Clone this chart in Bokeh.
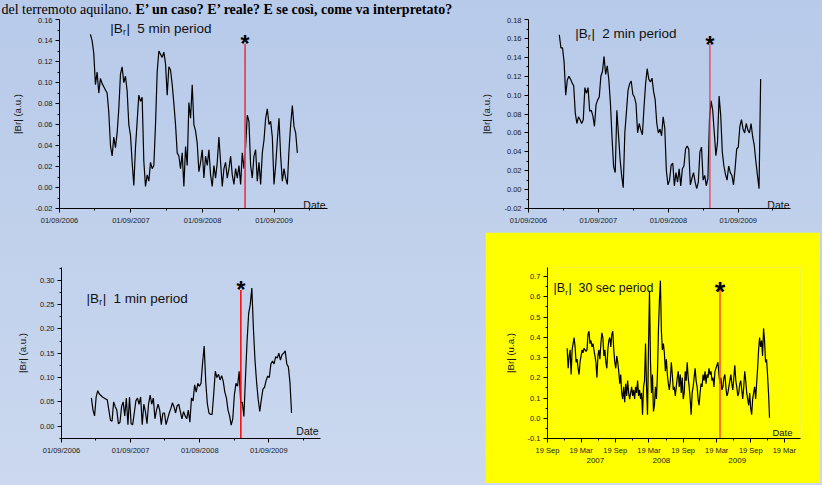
import pandas as pd
from bokeh.plotting import figure
from bokeh.layouts import column, row
from bokeh.models import (Range1d, FixedTicker, DatetimeTickFormatter,
                          NumeralTickFormatter, Label, DatetimeAxis, Spacer)
from bokeh.embed import file_html
from bokeh.resources import INLINE

# ------------------------------------------------------------------ data
heading_regular = "del terremoto aquilano. "
heading_bold = "E’ un caso? E’ reale? E se così, come va interpretato?"

quake_date = "2009-04-06"

br_5min = [0.146, 0.140, 0.128, 0.098, 0.110, 0.090, 0.104, 0.099, 0.096, 0.093,
           0.090, 0.072, 0.040, 0.030, 0.048, 0.038, 0.052, 0.075, 0.108, 0.115,
           0.100, 0.106, 0.092, 0.060, 0.050, 0.024, 0.002, 0.038, 0.063, 0.088,
           0.082, 0.086, 0.025, 0.001, 0.012, 0.006, 0.024, 0.018, 0.021, 0.060,
           0.110, 0.130, 0.127, 0.124, 0.129, 0.118, 0.088, 0.115, 0.112, 0.098,
           0.080, 0.060, 0.033, 0.030, 0.018, 0.033, 0.001, 0.039, 0.021, 0.081,
           0.066, 0.098, 0.060, 0.054, 0.042, 0.015, 0.024, 0.036, 0.009, 0.030,
           0.021, 0.036, 0.012, 0.001, 0.021, 0.009, 0.024, 0.048, 0.024, 0.001,
           0.018, 0.024, 0.009, 0.018, 0.030, 0.012, 0.003, 0.018, 0.009, 0.021,
           0.003, 0.033, 0.018, 0.039, 0.069, 0.063, 0.021, 0.009, 0.030, 0.036,
           0.006, 0.024, 0.003, 0.033, 0.045, 0.066, 0.075, 0.060, 0.063, 0.048,
           0.003, 0.021, 0.045, 0.066, 0.030, 0.006, 0.018, 0.009, 0.003, 0.036,
           0.060, 0.078, 0.058, 0.052, 0.033]

br_2min = [0.164, 0.150, 0.150, 0.135, 0.100, 0.116, 0.120, 0.117, 0.113, 0.110,
           0.081, 0.070, 0.077, 0.074, 0.070, 0.074, 0.108, 0.102, 0.108, 0.083,
           0.084, 0.078, 0.067, 0.090, 0.095, 0.098, 0.120, 0.125, 0.141, 0.122,
           0.131, 0.116, 0.091, 0.055, 0.024, 0.018, 0.084, 0.059, 0.033, 0.015,
           0.002, 0.060, 0.082, 0.105, 0.112, 0.115, 0.101, 0.098, 0.091, 0.060,
           0.070, 0.063, 0.058, 0.087, 0.112, 0.128, 0.117, 0.114, 0.118, 0.104,
           0.095, 0.070, 0.060, 0.064, 0.057, 0.077, 0.065, 0.020, 0.005, 0.010,
           0.026, 0.028, 0.004, 0.018, 0.008, 0.022, 0.004, 0.022, 0.025, 0.043,
           0.046, 0.043, 0.005, 0.012, 0.018, 0.008, 0.001, 0.008, 0.040, 0.045,
           0.010, 0.015, 0.004, 0.012, 0.075, 0.094, 0.084, 0.060, 0.036, 0.050,
           0.099, 0.079, 0.040, 0.025, 0.016, 0.010, 0.025, 0.018, 0.015, 0.005,
           0.022, 0.043, 0.045, 0.067, 0.074, 0.064, 0.060, 0.070, 0.063, 0.060,
           0.070, 0.056, 0.047, 0.030, 0.015, 0.001, 0.117]

br_1min = [0.058, 0.033, 0.021, 0.060, 0.073, 0.066, 0.063, 0.060, 0.058, 0.056,
           0.054, 0.033, 0.012, 0.010, 0.050, 0.040, 0.033, 0.005, 0.008, 0.040,
           0.050, 0.021, 0.058, 0.003, 0.060, 0.005, 0.003, 0.027, 0.052, 0.058,
           0.045, 0.060, 0.003, 0.045, 0.030, 0.005, 0.046, 0.064, 0.045, 0.058,
           0.015, 0.033, 0.045, 0.033, 0.003, 0.027, 0.027, 0.003, 0.015, 0.027,
           0.036, 0.048, 0.040, 0.027, 0.042, 0.045, 0.030, 0.015, 0.030, 0.021,
           0.015, 0.033, 0.008, 0.058, 0.052, 0.085, 0.070, 0.088, 0.082, 0.088,
           0.130, 0.165, 0.090, 0.046, 0.027, 0.024, 0.024, 0.066, 0.113, 0.100,
           0.107, 0.095, 0.104, 0.092, 0.070, 0.058, 0.033, 0.021, 0.002, 0.015,
           0.064, 0.088, 0.082, 0.113, 0.048, 0.049, 0.020, 0.100, 0.175, 0.232,
           0.250, 0.284, 0.200, 0.135, 0.090, 0.055, 0.030, 0.055, 0.076, 0.080,
           0.094, 0.103, 0.100, 0.128, 0.134, 0.128, 0.143, 0.140, 0.150, 0.136,
           0.147, 0.150, 0.155, 0.128, 0.122, 0.090, 0.027]

br_30sec = [0.346, 0.247, 0.308, 0.338, 0.216, 0.338, 0.369, 0.399, 0.353, 0.277,
            0.292, 0.247, 0.216, 0.277, 0.308, 0.338, 0.323, 0.346, 0.338, 0.330,
            0.338, 0.414, 0.430, 0.369, 0.384, 0.353, 0.369, 0.338, 0.308, 0.277,
            0.201, 0.308, 0.338, 0.292, 0.369, 0.422, 0.399, 0.308, 0.338, 0.277,
            0.247, 0.338, 0.384, 0.399, 0.353, 0.414, 0.430, 0.338, 0.277, 0.247,
            0.308, 0.277, 0.232, 0.171, 0.216, 0.125, 0.095, 0.155, 0.079, 0.171,
            0.110, 0.186, 0.125, 0.095, 0.125, 0.155, 0.110, 0.140, 0.095, 0.155,
            0.125, 0.186, 0.110, 0.140, 0.095, 0.125, 0.018, 0.155, 0.186, 0.369,
            0.155, 0.018, 0.353, 0.630, 0.277, 0.125, 0.216, 0.034, 0.064, 0.155,
            0.095, 0.216, 0.430, 0.582, 0.680, 0.430, 0.338, 0.369, 0.323, 0.232,
            0.292, 0.216, 0.171, 0.140, 0.186, 0.277, 0.216, 0.140, 0.155, 0.110,
            0.155, 0.201, 0.232, 0.155, 0.216, 0.125, 0.201, 0.095, 0.125, 0.232,
            0.186, 0.277, 0.201, 0.155, 0.095, 0.018, 0.125, 0.155, 0.201, 0.247,
            0.186, 0.155, 0.095, 0.064, 0.125, 0.171, 0.155, 0.216, 0.186, 0.232,
            0.171, 0.216, 0.201, 0.247, 0.216, 0.232, 0.186, 0.201, 0.155, 0.232,
            0.247, 0.262, 0.277, 0.216, 0.171, 0.201, 0.140, 0.155, 0.201, 0.216,
            0.155, 0.110, 0.125, 0.155, 0.186, 0.216, 0.171, 0.140, 0.201, 0.262,
            0.186, 0.155, 0.110, 0.125, 0.171, 0.186, 0.140, 0.095, 0.155, 0.232,
            0.186, 0.125, 0.095, 0.064, 0.125, 0.049, 0.018, 0.095, 0.125, 0.155,
            0.095, 0.171, 0.247, 0.338, 0.399, 0.353, 0.384, 0.308, 0.445, 0.384,
            0.277, 0.292, 0.216, 0.125, 0.003]

# first / last sample date of each record
span_5min = ("2007-02-06", "2009-12-29")
span_2min = ("2007-02-09", "2009-12-27")
span_1min = ("2007-02-06", "2009-12-30")
span_30sec = ("2007-01-03", "2009-12-29")

period_titles = ["5 min period", "2 min period", "1 min period", "30 sec period"]
y_labels = ["|Br| (a.u.)", "|Br| (a.u.)", "|Br| (a.u.)", "|Br| (u.a.)"]
red_tops = [0.137, 0.154, 0.280, 0.647]

yticks_5min = [-0.02, 0.00, 0.02, 0.04, 0.06, 0.08, 0.10, 0.12, 0.14, 0.16]
yticks_2min = [-0.02, 0.00, 0.02, 0.04, 0.06, 0.08, 0.10, 0.12, 0.14, 0.16, 0.18]
yticks_1min = [0.00, 0.05, 0.10, 0.15, 0.20, 0.25, 0.30]
yticks_30sec = [-0.1, 0.0, 0.1, 0.2, 0.3, 0.4, 0.5, 0.6, 0.7]

xticks_dmy = ["2006-09-01", "2007-09-01", "2008-09-01", "2009-09-01"]
xminor_dmy = ["2007-03-01", "2008-03-01", "2009-03-01", "2010-03-01"]
xticks_30sec = ["2006-09-19", "2007-03-19", "2007-09-19", "2008-03-19",
                "2008-09-19", "2009-03-19", "2009-09-19", "2010-03-19"]
xminor_30sec = ["2006-12-19", "2007-06-19", "2007-12-19", "2008-06-19",
                "2008-12-19", "2009-06-19", "2009-12-19"]
year_label_pos = ["2007-06-04", "2008-05-25", "2009-07-08"]

# ------------------------------------------------------------------ helpers
SANS = "Liberation Sans"
SERIF = "Liberation Serif"


def ms(d):
    return pd.Timestamp(d).value / 1e6


def minors(ticks):
    step = ticks[1] - ticks[0]
    return [round(t + step / 2, 4) for t in ticks] + [round(ticks[0] - step / 2, 4)]


def make_fig(width, height, lb, rb, tb, bb, xr, yr, fill=None):
    p = figure(width=width, height=height, x_axis_type="datetime",
               x_range=Range1d(ms(xr[0]), ms(xr[1])), y_range=Range1d(*yr),
               output_backend="svg", toolbar_location=None,
               min_border_left=lb, min_border_right=rb,
               min_border_top=tb, min_border_bottom=bb)
    p.border_fill_color = fill
    p.background_fill_color = fill
    p.outline_line_color = None
    p.grid.visible = False
    return p


def style_axes(p, ylabel, yticks, yfmt, xticks, xminor, xfmt):
    for ax in p.axis:
        ax.axis_line_color = "black"
        ax.axis_line_width = 1
        ax.major_tick_line_color = "black"
        ax.minor_tick_line_color = "black"
        ax.major_tick_in = 0
        ax.major_tick_out = 4
        ax.minor_tick_in = 0
        ax.minor_tick_out = 2
        ax.major_label_text_font = SANS
        ax.major_label_text_font_size = "7.5px"
        ax.major_label_text_color = "#1a1a1a"
        ax.major_label_standoff = 3
    p.yaxis.ticker = FixedTicker(ticks=yticks, minor_ticks=minors(yticks))
    p.yaxis.formatter = NumeralTickFormatter(format=yfmt)
    p.yaxis.axis_label = ylabel
    p.yaxis.axis_label_text_font = SANS
    p.yaxis.axis_label_text_font_size = "9.7px"
    p.yaxis.axis_label_text_font_style = "normal"
    p.yaxis.axis_label_text_color = "#1a1a1a"
    p.yaxis.axis_label_standoff = 9
    p.xaxis.ticker = FixedTicker(ticks=[ms(t) for t in xticks],
                                 minor_ticks=[ms(t) for t in xminor])
    p.xaxis.formatter = DatetimeTickFormatter(days=xfmt, months=xfmt, years=xfmt,
                                              hours=xfmt, hourmin=xfmt)


def add_title(p, x, y, rest, s):
    kw = dict(text_font=SANS, text_color="#111111", text_baseline="alphabetic")
    p.add_layout(Label(x=ms(x), y=y, text="|B", text_font_size=f"{s}px", **kw))
    p.add_layout(Label(x=ms(x), y=y, text="r", x_offset=0.95 * s, y_offset=-0.3 * s,
                       text_font_size=f"{0.62 * s:.1f}px", **kw))
    p.add_layout(Label(x=ms(x), y=y, text="|", x_offset=1.2 * s,
                       text_font_size=f"{s}px", **kw))
    p.add_layout(Label(x=ms(x), y=y, text=rest, x_offset=2.0 * s,
                       text_font_size=f"{s}px", **kw))


def add_quake(p, top, color, lw, star_size, gap):
    y0 = p.y_range.start
    p.segment(x0=[ms(quake_date)], y0=[y0], x1=[ms(quake_date)], y1=[top],
              line_color=color, line_width=lw)
    p.add_layout(Label(x=ms(quake_date), y=top, text="*", text_align="center",
                       text_baseline="alphabetic", text_font=SANS,
                       text_font_style="bold", text_font_size=f"{star_size}px",
                       y_offset=gap - 0.355 * star_size, text_color="black"))


def add_date(p, dx, dy, size):
    p.add_layout(Label(x=p.x_range.end, y=p.y_range.start, text="Date",
                       text_align="right", text_baseline="alphabetic",
                       x_offset=dx, y_offset=dy, text_font=SANS,
                       text_font_size=f"{size}px", text_color="#111111"))


# ------------------------------------------------------------------ heading
head = figure(width=822, height=17, x_range=Range1d(0, 822), y_range=Range1d(0, 17),
              x_axis_location=None, y_axis_location=None, min_border=0,
              output_backend="svg", toolbar_location=None)
head.border_fill_color = None
head.background_fill_color = None
head.outline_line_color = None
head.grid.visible = False
head.add_layout(Label(x=1, y=8.5, text=heading_regular, text_font=SERIF,
                      text_font_size="14px", text_color="black",
                      text_baseline="middle"))
head.add_layout(Label(x=135, y=8.5, text=heading_bold, text_font=SERIF,
                      text_font_size="14px", text_font_style="bold",
                      text_color="black", text_baseline="middle"))

# ------------------------------------------------------------------ chart 1 (5 min)
p1 = make_fig(430, 215, 59, 103, 2, 19, ("2006-09-01", "2010-06-01"), (-0.02, 0.1601))
d1 = pd.date_range(span_5min[0], span_5min[1], periods=len(br_5min))
p1.line(x=d1, y=br_5min, line_color="black", line_width=1.2)
style_axes(p1, y_labels[0], yticks_5min, "0.00", xticks_dmy, xminor_dmy, "%d/%m/%Y")
add_quake(p1, red_tops[0], "#e4475a", 1.8, 23, 7.5)
add_title(p1, "2007-05-18", 0.1516, period_titles[0], 13.5)
add_date(p1, -2, 4, 10.5)

# ------------------------------------------------------------------ chart 2 (2 min)
p2 = make_fig(392, 215, 98, 32, 2, 24, ("2006-09-01", "2010-06-01"), (-0.02, 0.1801))
d2 = pd.date_range(span_2min[0], span_2min[1], periods=len(br_2min))
p2.line(x=d2, y=br_2min, line_color="black", line_width=1.2)
style_axes(p2, y_labels[1], yticks_2min, "0.00", xticks_dmy, xminor_dmy, "%d/%m/%Y")
add_quake(p2, red_tops[1], "#e8334a", 1.2, 23, 7.5)
add_title(p2, "2007-05-03", 0.1655, period_titles[1], 13.5)
add_date(p2, -1, 4, 10.5)

# ------------------------------------------------------------------ chart 3 (1 min)
p3 = make_fig(485, 251, 61, 165, 35, 24, ("2006-09-01", "2010-06-01"), (-0.0255, 0.3265))
d3 = pd.date_range(span_1min[0], span_1min[1], periods=len(br_1min))
p3.line(x=d3, y=br_1min, line_color="black", line_width=1.2)
style_axes(p3, y_labels[2], yticks_1min, "0.00", xticks_dmy, xminor_dmy, "%d/%m/%Y")
add_quake(p3, red_tops[2], "#ff0000", 1.5, 23, 8.5)
add_title(p3, "2007-01-11", 0.263, period_titles[2], 13.5)
add_date(p3, -2, 8, 10.5)

# ------------------------------------------------------------------ chart 4 (30 sec)
p4 = make_fig(335, 251, 62, 20, 20, 45, ("2006-09-19", "2010-06-14"), (-0.1, 0.745),
              fill="#ffff00")
d4 = pd.date_range(span_30sec[0], span_30sec[1], periods=len(br_30sec))
p4.line(x=d4, y=br_30sec, line_color="black", line_width=1.2)
year_axis = DatetimeAxis()
p4.add_layout(year_axis, "below")
style_axes(p4, y_labels[3], yticks_30sec, "0.0", xticks_30sec, xminor_30sec, "%d %b")
year_axis.ticker = FixedTicker(ticks=[ms(t) for t in year_label_pos])
year_axis.formatter = DatetimeTickFormatter(days="%Y", months="%Y", years="%Y",
                                            hours="%Y", hourmin="%Y")
year_axis.axis_line_color = None
year_axis.major_tick_line_color = None
year_axis.minor_tick_line_color = None
year_axis.major_tick_out = 0
year_axis.major_label_standoff = 0
year_axis.major_label_text_font_size = "8px"
add_quake(p4, red_tops[3], "#ff4d1a", 1.5, 27, 5)
add_title(p4, "2006-10-21", 0.642, period_titles[3], 12.5)
add_date(p4, -8, 6, 9.5)

layout = column(head, row(p1, p2), row(p3, p4, Spacer(width=2, height=251)),
                Spacer(width=822, height=2),
                styles={"background": "linear-gradient(180deg, #b7cae9 0%, #cbd8ef 100%)"})

open("out.html", "w").write(file_html(layout, INLINE))
